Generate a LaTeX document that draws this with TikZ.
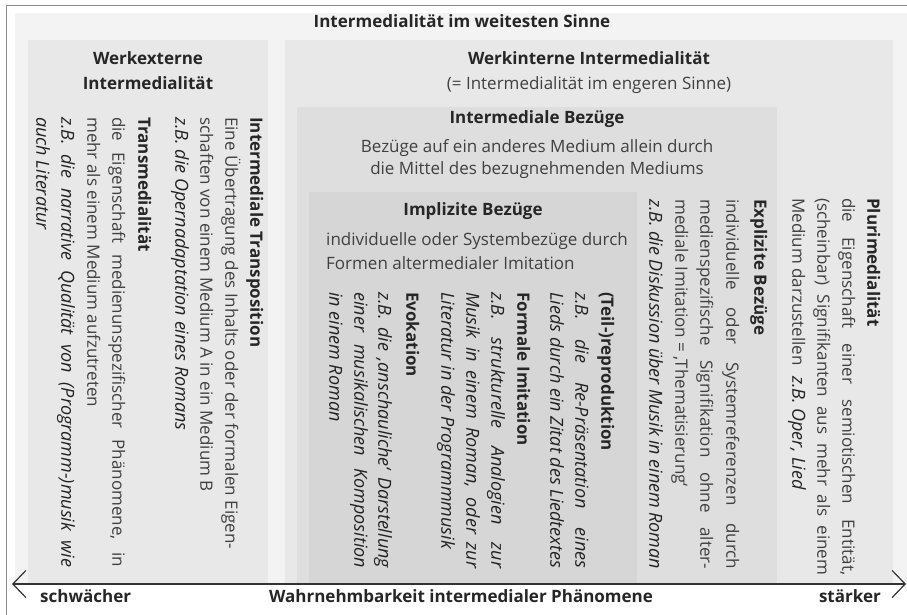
\documentclass[tikz,border=0pt]{standalone}
\usepackage{fontspec}
\setmainfont{Open Sans}
\usetikzlibrary{arrows.meta}
\definecolor{frameln}{HTML}{8A8A8A}
\definecolor{areabg}{HTML}{F3F3F3}
\definecolor{boxA}{HTML}{E8E8E8}
\definecolor{boxB}{HTML}{DEDEDE}
\definecolor{boxC}{HTML}{D6D6D6}
\definecolor{bodytxt}{HTML}{404040}
\definecolor{headtxt}{HTML}{262626}
\definecolor{exmtxt}{HTML}{222222}
\definecolor{axisln}{HTML}{333333}
\newcommand\J[2]{\makebox[#1pt][s]{#2}}
\newcommand\ex{\fontsize{18}{20}\selectfont\itshape\color{exmtxt}}
\tikzset{
  vt/.style={rotate=-90, anchor=mid west, inner sep=0pt, font=\fontsize{17}{20}\selectfont, text=bodytxt},
  vb/.style={vt, font=\fontsize{17}{20}\selectfont\bfseries, text=headtxt},
  vi/.style={vt, font=\fontsize{18}{20}\selectfont\itshape, text=exmtxt},
  ht/.style={anchor=mid, inner sep=0pt, font=\fontsize{17}{20}\selectfont, text=bodytxt},
  hb/.style={ht, font=\fontsize{17}{20}\selectfont\bfseries, text=headtxt},
}
\begin{document}
\begin{tikzpicture}[x=1pt,y=-1pt]
\useasboundingbox (0,0) rectangle (907,614);
% frame and areas
\fill[white] (0,0) rectangle (907,614);
\fill[areabg] (15,13) rectangle (907,584);
\draw[frameln, line width=1pt] (6,620) -- (6,5) -- (912,5);
\fill[boxA] (28,40) rectangle (268,584);
\fill[boxA] (285,40) rectangle (893,584);
\fill[boxB] (297,107) rectangle (777,584);
\fill[boxC] (309,192) rectangle (637,584);

% horizontal texts
\node[hb] (title) at (462,25) {Intermedialität im weitesten Sinne};
\node[hb] (wex1) at (148,62) {Werkexterne};
\node[hb] (wex2) at (148,87) {Intermedialität};
\node[hb] (win1) at (589,62) {Werkinterne Intermedialität};
\node[ht] (win2) at (589,87) {(= Intermedialität im engeren Sinne)};
\node[hb] (ib1) at (537,121) {Intermediale Bezüge};
\node[ht] (ib2) at (537,150) {Bezüge auf ein anderes Medium allein durch};
\node[ht] (ib3) at (537,172) {die Mittel des bezugnehmenden Mediums};
\node[hb] (imp1) at (473,213) {Implizite Bezüge};
\node[ht, anchor=mid west] (imp2) at (326,243) {individuelle oder Systembezüge durch};
\node[ht, anchor=mid west] (imp3) at (326,267) {Formen altermedialer Imitation};

% left box columns
\node[vb] (L1) at (253,117) {Intermediale Transposition};
\node[vt] (L2) at (228,117) {Eine Übertragung des Inhalts oder der formalen Eigen-};
\node[vt] (L3) at (203,117) {schaften von einem Medium A in ein Medium B};
\node[vi] (L4) at (178,117) {z.B. die Opernadaptation eines Romans};
\node[vb] (L5) at (141,117) {Transmedialität};
\node[vt] (L6) at (115,117) {\J{450}{die Eigenschaft medienunspezifischer Phänomene, in}};
\node[vt] (L7) at (90,117) {mehr als einem Medium aufzutreten};
\node[vi] (L8) at (64,117) {\J{450}{z.B. die narrative Qualität von (Programm-)musik wie}};
\node[vi] (L9) at (39,117) {auch Literatur};

% Plurimedialitaet
\node[vb] (P1) at (870,198) {Plurimedialität};
\node[vt] (P2) at (845,198) {\J{377}{die Eigenschaft einer semiotischen Entität,}};
\node[vt] (P3) at (820,198) {\J{377}{(scheinbar) Signifikanten aus mehr als einem}};
\node[vt] (P4) at (795,198) {Medium darzustellen\hspace{0.6em}{\ex z.B. Oper, Lied}};

% Explizite Bezuege
\node[vb] (E1) at (757,199) {Explizite Bezüge};
\node[vt] (E2) at (729,199) {\J{370}{individuelle oder Systemreferenzen durch}};
\node[vt] (E3) at (703,199) {\J{370}{medienspezifische Signifikation ohne alter-}};
\node[vt] (E4) at (678,199) {mediale Imitation = ‚Thematisierung‘};
\node[vi] (E5) at (652,199) {\J{370}{z.B. die Diskussion über Musik in einem Roman}};

% Implizite Bezuege
\node[vb] (I1) at (604,292) {(Teil-)reproduktion};
\node[vi] (I2) at (578,292) {\J{276}{z.B. die Re-Präsentation eines}};
\node[vi] (I3) at (553,292) {\J{276}{Lieds durch ein Zitat des Liedtextes}};
\node[vb] (I4) at (520,292) {Formale Imitation};
\node[vi] (I5) at (494,292) {\J{276}{z.B. strukturelle Analogien zur}};
\node[vi] (I6) at (469,292) {\J{276}{Musik in einem Roman, oder zur}};
\node[vi] (I7) at (444,292) {Literatur in der Programmmusik};
\node[vb] (I8) at (409,292) {Evokation};
\node[vi] (I9) at (381,292) {\J{276}{z.B. die ‚anschauliche‘ Darstellung}};
\node[vi] (I10) at (357,292) {\J{276}{einer musikalischen Komposition}};
\node[vi] (I11) at (332,292) {in einem Roman};

% axis
\coordinate (aL) at (12,584);
\coordinate (aR) at (906,584);
\draw[axisln, line width=1.2pt, {Straight Barb[length=13pt,width=27pt]}-{Straight Barb[length=13pt,width=27pt]}] (aL) -- (aR);
\node[hb, anchor=mid west] (weak) at (40,600) {schwächer};
\node[hb] (axl) at (461,600) {Wahrnehmbarkeit intermedialer Phänomene};
\node[hb, anchor=mid east] (strong) at (881,600) {stärker};
\end{tikzpicture}
\end{document}
